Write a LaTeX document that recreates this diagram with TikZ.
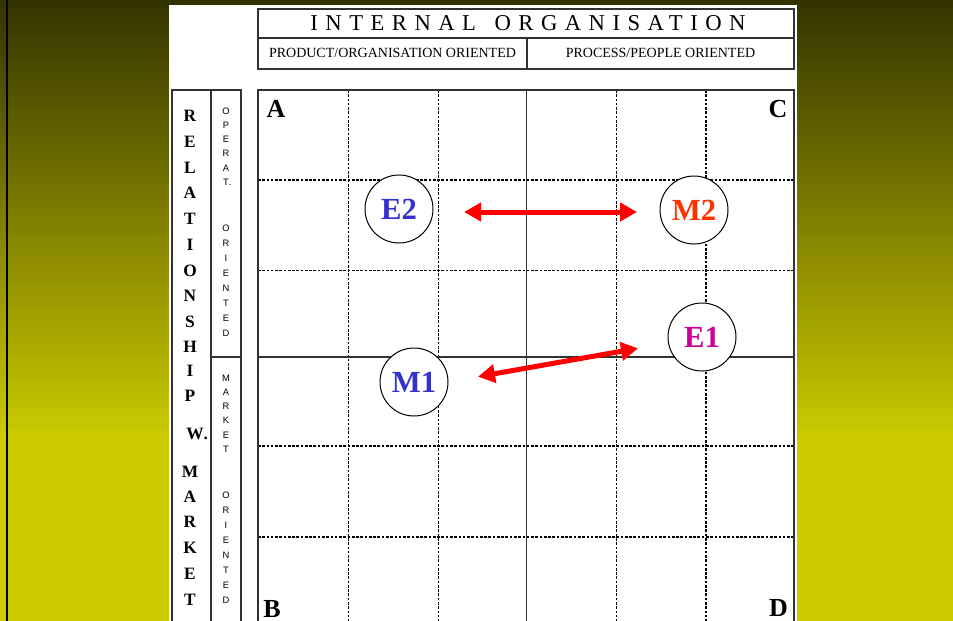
\documentclass[tikz,border=0pt]{standalone}
\usepackage{fontspec}
\setmainfont{Liberation Serif}
\newfontfamily\sansfnt{Liberation Sans}
\newfontfamily\titlefnt[LetterSpace=33]{Liberation Serif}
\usetikzlibrary{arrows.meta,calc}

\definecolor{bgtop}{RGB}{51,51,0}
\definecolor{bgbot}{RGB}{204,204,0}
\definecolor{gridgray}{RGB}{50,50,50}
\definecolor{eblue}{RGB}{51,51,204}
\definecolor{morange}{RGB}{255,51,0}
\definecolor{emag}{RGB}{204,0,153}

\begin{document}
\begin{tikzpicture}[x=0.75pt,y=-0.75pt,
  frame/.style={draw=gridgray,line width=1.1pt},
  solidline/.style={draw=gridgray,line width=1.1pt},
  dashline/.style={draw=black,line width=0.95pt,dash pattern=on 2pt off 1.2pt},
  corner/.style={font=\fontsize{19.5pt}{20pt}\selectfont\bfseries,inner sep=0pt,anchor=base},
  bigletter/.style={font=\fontsize{13pt}{13pt}\selectfont\bfseries,inner sep=0pt},
  tinyletter/.style={font=\sansfnt\fontsize{7pt}{8pt}\selectfont,inner sep=0pt},
  subhead/.style={font=\fontsize{10.5pt}{11pt}\selectfont,inner sep=0pt,anchor=base},
  bubble/.style={circle,draw=black,line width=0.75pt,fill=white,minimum size=51pt,
    inner sep=0pt,font=\fontsize{23pt}{24pt}\selectfont\bfseries},
  link/.style={red,line width=3.75pt,
    {Triangle[length=12.75pt,width=13.5pt]}-{Triangle[length=12.75pt,width=13.5pt]}}
]
\useasboundingbox (0,0) rectangle (953,621);
\clip (0,0) rectangle (953,621);

% backdrop: olive gradient, black rule at the left, white sheet
\shade[top color=bgtop,bottom color=bgbot] (0,0) rectangle (953,441);
\fill[bgbot] (0,440) rectangle (953,621);
\fill[black] (6,0) rectangle (8,621);
\fill[white] (168.5,5) rectangle (797,630);

% header table
\draw[frame] (258,9) rectangle (794,69);
\draw[solidline] (258,38) -- (794,38);
\draw[solidline] (527,38) -- (527,69);
\node[font=\titlefnt\fontsize{17pt}{18pt}\selectfont,inner sep=0pt,anchor=base]
  (title) at (528,30) {INTERNAL\hspace{4pt} ORGANISATION};
\node[subhead] (prod) at (392.5,57) {PRODUCT/ORGANISATION ORIENTED};
\node[subhead] (proc) at (660.5,57) {PROCESS/PEOPLE ORIENTED};

% matrix: dashed inner grid
\foreach \gx in {348.5,438.3,616.7,706}
  \draw[dashline] (\gx,90) -- (\gx,640);
\foreach \gy in {180,270.5,446,537}
  \draw[dashline] (258,\gy) -- (794,\gy);
% matrix: solid axes and frame
\draw[solidline] (526.5,90) -- (526.5,640);
\draw[solidline] (258,357) -- (794,357);
\draw[frame] (258,90) rectangle (794,640);

% side columns
\draw[frame] (172,90) rectangle (211,640);
\draw[frame] (211,90) rectangle (241,640);
\draw[solidline] (211,357) -- (241,357);

% corner letters
\node[corner] (cA) at (276,117) {A};
\node[corner] (cC) at (778,117) {C};
\node[corner] (cB) at (272,617) {B};
\node[corner] (cD) at (778.5,616) {D};

% vertical caption: RELATIONSHIP W. MARKET
\foreach \ch/\yy [count=\i] in {R/116,E/142,L/168,A/193,T/219,I/245,O/271,N/296,S/322,H/347,
    I/371,P/396,M/472,A/497,R/522,K/548,E/574,T/600}
  \node[bigletter] (rel\i) at (190,\yy) {\ch};
\node[bigletter] (relW) at (195,434) {W\rlap{.}};

% vertical captions in the narrow column
\foreach \ch [count=\i from 0] in {O,P,E,R,A,{T\rlap{.}}}
  \node[tinyletter] (opa\i) at (226,{111+14.2*\i}) {\ch};
\foreach \ch [count=\i from 0] in {O,R,I,E,N,T,E,D}
  \node[tinyletter] (opb\i) at (226,{228+15*\i}) {\ch};
\foreach \ch [count=\i from 0] in {M,A,R,K,E,T}
  \node[tinyletter] (mka\i) at (226,{378+14.2*\i}) {\ch};
\foreach \ch [count=\i from 0] in {O,R,I,E,N,T,E,D}
  \node[tinyletter] (mkb\i) at (226,{495+15*\i}) {\ch};

% positions
\node[bubble,text=eblue]   (E2) at (399,209) {E2};
\node[bubble,text=morange] (M2) at (694,210) {M2};
\node[bubble,text=emag]    (E1) at (702,337) {E1};
\node[bubble,text=eblue]   (M1) at (414,382) {M1};

% movements
\draw[link,shorten <=48.75pt,shorten >=42.75pt]
  ([yshift=-2.25pt]E2.center) -- ([yshift=-1.5pt]M2.center);
\draw[link,shorten <=48.75pt,shorten >=48.75pt]
  ([yshift=-4.5pt]M1.center) -- (E1.center);
\end{tikzpicture}
\end{document}
